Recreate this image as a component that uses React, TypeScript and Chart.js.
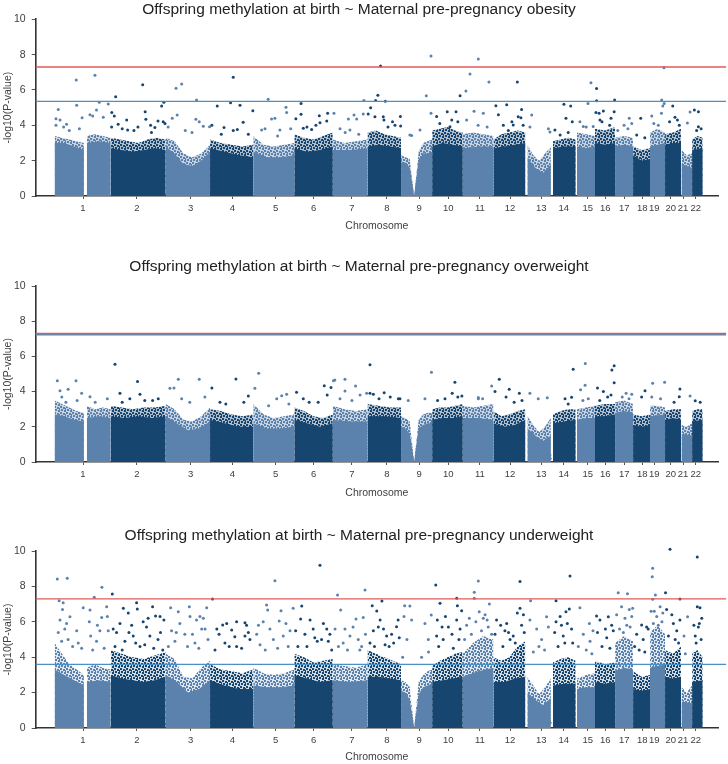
import React, { useEffect, useRef } from 'react';
import { Chart, registerables } from 'chart.js';

Chart.register(...registerables);

// ---------- genome layout (cumulative position, Mb) ----------
const chromosomeLabels = ['1','2','3','4','5','6','7','8','9','10','11','12','13','14','15','16','17','18','19','20','21','22'];
const chromosomeStart = [0, 249, 493, 690, 882, 1064, 1235, 1389, 1538, 1676, 1812, 1948, 2099, 2212, 2319, 2399, 2488, 2568, 2643, 2710, 2783, 2830];
const chromosomeEnd = [249, 493, 690, 882, 1064, 1235, 1389, 1538, 1676, 1812, 1948, 2090, 2203, 2313, 2399, 2488, 2568, 2643, 2710, 2781, 2830, 2877];
const chromosomeTickPos = [126, 365, 604, 789, 981, 1150, 1320, 1475, 1618, 1748, 1888, 2022, 2160, 2260, 2367, 2445, 2529, 2609, 2662, 2735, 2790, 2846];
// centromere gaps: [chromosome index, gap start, gap end]
const centromereGaps: [number, number, number][] = [[0, 130, 143], [8, 1596, 1596]];

const X_MIN = -84;
const X_MAX = 2945;
const LINE_END = 2981;

// ---------- Panel 1: obesity ----------
const obesityTitle = 'Offspring methylation at birth ~ Maternal pre-pregnancy obesity';
const obesityGenomeWide = 7.3;
const obesitySuggestive = 5.35;
const obesityCore: number[][] = [
  [3.0, 3.0, 2.8, 2.6], [3.0, 3.1, 3.0], [2.7, 2.6, 2.5, 2.6, 2.7, 2.6], [2.8, 2.4, 1.8, 1.7, 2.0, 2.5],
  [2.7, 2.5, 2.3, 2.2], [2.5, 2.2, 2.2, 2.3], [2.7, 2.5, 2.6, 2.8], [2.6, 2.6, 2.7],
  [2.8, 2.9, 2.8, 2.7], [1.9, 1.9, 1.6, 0], [0, 2.0, 2.4, 2.4, 2.5], [2.8, 3.0, 2.9, 2.8],
  [2.7, 2.8, 2.8], [2.7, 2.8, 2.9, 3.0], [2.2, 1.6, 1.3, 1.8], [2.7, 2.8, 2.8],
  [2.8, 2.7, 2.8], [3.0, 2.9, 3.0], [2.8, 2.9, 2.8], [2.3, 2.0, 2.1],
  [2.8, 3.0], [2.9, 3.0, 3.0], [1.8, 1.6], [2.6, 2.7],
];
const obesityHalo: number[][] = [
  [3.4, 3.3, 3.2, 3.1, 3.0], [3.4, 3.5, 3.4, 3.3], [3.3, 3.2, 3.1, 3.0, 3.2, 3.3, 3.2], [3.3, 3.1, 2.4, 2.2, 2.4, 2.9],
  [3.2, 3.0, 2.9, 2.8, 2.9], [3.4, 2.9, 2.8, 2.9, 3.0], [3.5, 3.3, 3.2, 3.4, 3.6], [3.2, 3.0, 3.1, 3.2],
  [3.6, 3.7, 3.5, 3.4, 3.3], [2.3, 2.2, 2.1, 0], [0, 2.5, 3.0, 3.1, 3.2], [3.7, 3.8, 3.9, 3.7, 3.6],
  [3.5, 3.6, 3.5, 3.4], [3.2, 3.5, 3.6, 3.7, 3.6], [2.9, 2.3, 2.0, 2.4, 2.8], [3.1, 3.2, 3.3, 3.2],
  [3.6, 3.5, 3.4], [3.8, 3.7, 3.9], [3.3, 3.4, 3.3], [2.8, 2.6, 2.7],
  [3.6, 3.8, 3.6], [3.5, 3.6, 3.8], [2.6, 2.3, 2.4], [3.2, 3.4, 3.3],
];
const obesityPoints: [number, number][] = [
  [96, 6.56], [179, 6.83], [16, 4.9], [98, 5.13], [6, 4.37], [24, 4.3], [6, 4.0], [53, 4.06], [65, 3.7], [122, 4.43],
  [157, 4.6], [169, 4.53], [186, 4.87], [198, 5.3], [216, 4.45], [238, 5.2], [253, 3.9], [40, 3.9], [110, 3.8],
  [271, 5.62], [254, 4.72], [265, 4.53], [282, 4.06], [320, 4.3], [324, 3.73], [352, 3.7], [391, 6.3], [402, 4.77],
  [405, 4.34], [426, 4.0], [445, 3.87], [459, 4.24], [475, 5.09], [485, 5.3], [482, 4.2], [490, 4.1], [300, 3.8], [370, 3.9], [430, 3.6],
  [539, 6.1], [564, 6.34], [544, 4.58], [522, 4.4], [630, 5.43], [627, 4.34], [642, 4.2], [504, 3.9], [660, 3.95], [688, 3.92], [580, 3.7], [610, 3.6],
  [722, 5.09], [793, 6.72], [781, 5.28], [823, 5.13], [837, 4.17], [698, 4.0], [752, 3.88], [793, 3.7], [811, 3.77], [880, 4.83], [740, 3.5], [860, 3.5],
  [948, 5.47], [963, 4.36], [978, 4.4], [1027, 5.02], [1030, 4.72], [1000, 3.73], [934, 3.8], [919, 3.73], [1048, 3.8], [990, 3.4],
  [1094, 5.24], [1094, 4.62], [1071, 4.37], [1175, 4.54], [1212, 4.68], [1104, 3.83], [1178, 4.15], [1208, 4.25], [1141, 3.77], [1120, 3.9], [1160, 4.0],
  [1240, 4.68], [1304, 4.36], [1329, 4.58], [1341, 4.36], [1370, 4.64], [1373, 5.41], [1392, 4.64], [1267, 3.8], [1311, 3.73], [1290, 3.6], [1350, 3.5],
  [1447, 7.36], [1435, 5.7], [1425, 5.41], [1468, 5.36], [1403, 5.0], [1422, 4.49], [1459, 4.49], [1462, 4.3], [1535, 4.5], [1511, 4.0], [1536, 3.96],
  [1480, 3.9], [1500, 4.2],
  [1577, 3.45], [1585, 3.43], [1671, 7.92], [1650, 5.68], [1671, 4.68], [1622, 3.73],
  [1696, 4.5], [1743, 4.77], [1763, 4.3], [1782, 4.77], [1800, 5.68], [1755, 3.92], [1710, 4.1], [1790, 4.2],
  [1826, 5.94], [1844, 6.9], [1881, 7.75], [1928, 6.45], [1862, 4.8], [1829, 4.3], [1903, 4.68], [1880, 4.0], [1920, 3.9],
  [2054, 6.45], [1959, 5.11], [2007, 5.17], [2073, 4.9], [2058, 4.49], [2070, 4.43], [1970, 4.6], [1992, 4.0], [2036, 4.02], [2014, 3.7],
  [2030, 4.2], [2080, 4.0],
  [2118, 4.58], [2110, 3.9], [2192, 3.8], [2199, 3.62],
  [2261, 5.19], [2291, 5.09], [2270, 4.4], [2298, 4.2], [2244, 3.45], [2221, 3.73], [2280, 3.6],
  [2381, 6.41], [2368, 5.24], [2332, 4.2], [2347, 3.93], [2391, 3.93], [2360, 3.9],
  [2406, 6.09], [2406, 5.39], [2403, 4.72], [2417, 4.68], [2436, 4.81], [2421, 4.3], [2486, 5.43], [2484, 4.77], [2464, 4.0], [2430, 4.2], [2470, 4.4],
  [2551, 4.4], [2528, 4.0], [2562, 4.1], [2500, 3.7], [2545, 3.8], [2602, 4.4], [2584, 3.45], [2620, 3.3],
  [2705, 7.26], [2695, 5.43], [2706, 5.24], [2700, 5.1], [2651, 4.53], [2694, 4.68], [2660, 4.1], [2680, 4.0],
  [2744, 5.09], [2754, 4.45], [2773, 4.0], [2730, 4.2], [2765, 4.3], [2821, 4.75], [2809, 4.13], [2821, 0.2],
  [2840, 4.87], [2858, 4.77], [2858, 3.92], [2850, 3.7], [2870, 3.8],
];

// ---------- Panel 2: overweight ----------
const overweightTitle = 'Offspring methylation at birth ~ Maternal pre-pregnancy overweight';
const overweightGenomeWide = 7.3;
const overweightSuggestive = 7.23;
const overweightCore: number[][] = [
  [2.7, 2.6, 2.4, 2.3], [2.5, 2.6, 2.5], [2.6, 2.5, 2.6, 2.5, 2.6], [2.6, 2.2, 1.8, 1.9, 2.3],
  [2.4, 2.2, 2.0, 2.0], [2.2, 1.9, 1.9, 2.0], [2.4, 2.2, 2.0, 2.2], [2.4, 2.3, 2.3],
  [2.6, 2.6, 2.5], [2.0, 1.9, 1.6, 0], [0, 1.9, 2.1, 2.2, 2.2], [2.4, 2.5, 2.5, 2.6],
  [2.5, 2.5, 2.4], [2.2, 2.0, 2.1, 2.4], [1.9, 1.5, 1.2, 1.5], [2.2, 2.3, 2.4],
  [2.4, 2.5, 2.5], [2.6, 2.6, 2.7], [2.8, 2.9, 2.8], [2.1, 2.0, 2.1],
  [2.6, 2.7], [2.4, 2.5, 2.4], [1.6, 1.5], [2.3, 2.4],
];
const overweightHalo: number[][] = [
  [3.5, 3.3, 3.1, 2.9, 2.8], [3.2, 3.0, 3.1, 3.0], [3.2, 3.1, 3.0, 3.1, 3.1, 3.2], [3.3, 3.0, 2.4, 2.3, 2.6, 3.1],
  [3.0, 2.9, 2.7, 2.6, 2.7], [3.3, 2.7, 2.5, 2.6, 2.7], [3.1, 2.9, 2.6, 2.5, 2.7], [3.2, 3.0, 2.9, 3.0],
  [3.3, 3.2, 3.1, 3.1], [2.6, 2.5, 2.3, 0], [0, 2.4, 2.7, 2.8, 2.8], [3.0, 3.1, 3.1, 3.2, 3.3],
  [3.2, 3.1, 3.2, 3.3], [2.9, 2.6, 2.7, 2.9, 3.0], [2.6, 2.1, 1.7, 2.0, 2.5], [2.7, 2.9, 3.0, 3.0],
  [3.0, 3.1, 3.2], [3.2, 3.3, 3.3], [3.4, 3.5, 3.3], [2.7, 2.6, 2.7],
  [3.2, 3.2, 3.1], [2.9, 3.0, 3.0], [2.1, 2.0, 2.2], [2.9, 3.0, 3.0],
];
const overweightPoints: [number, number][] = [
  [12, 4.62], [95, 4.62], [24, 4.05], [60, 4.13], [120, 3.9], [157, 3.71], [234, 3.6], [32, 3.7], [50, 3.4], [100, 3.5], [180, 3.4],
  [268, 5.55], [290, 3.9], [368, 4.58], [379, 3.85], [334, 3.6], [435, 3.5], [300, 3.4], [400, 3.5], [460, 3.6],
  [549, 4.7], [642, 4.7], [512, 4.19], [530, 4.2], [564, 3.6], [667, 3.7], [600, 3.4],
  [805, 4.72], [698, 4.2], [734, 3.4], [860, 3.75], [760, 3.3], [840, 3.4],
  [906, 5.04], [889, 4.19], [1008, 3.77], [1030, 3.85], [986, 3.6], [950, 3.2], [1040, 3.3],
  [1074, 3.96], [1104, 3.6], [1170, 3.4], [1197, 4.33], [1227, 4.24], [1130, 3.4], [1210, 3.8],
  [1238, 4.62], [1244, 4.66], [1289, 4.7], [1289, 4.03], [1336, 4.32], [1267, 3.6], [1356, 3.8], [1385, 3.9], [1320, 3.5],
  [1400, 5.53], [1400, 3.9], [1415, 3.85], [1463, 3.94], [1526, 3.6], [1533, 3.6], [1440, 3.6], [1490, 3.7],
  [1673, 5.1], [1644, 3.6], [1570, 3.5],
  [1777, 4.53], [1765, 3.9], [1733, 3.6], [1808, 3.75], [1700, 3.5], [1790, 3.7],
  [1940, 4.32], [1881, 3.6], [1881, 3.67], [1900, 3.6],
  [1955, 4.0], [1974, 4.7], [2018, 4.13], [2004, 3.7], [2063, 3.9], [2040, 3.4], [2075, 3.5],
  [2110, 3.9], [2147, 3.6], [2187, 3.65], [2199, 0.4], [2200, 0.2],
  [2302, 5.27], [2295, 3.68], [2266, 3.6], [2280, 3.3],
  [2356, 5.59], [2355, 4.36], [2335, 4.1], [2369, 3.6], [2345, 3.5],
  [2474, 5.23], [2484, 5.47], [2484, 4.5], [2436, 4.0], [2410, 4.2], [2470, 3.8], [2420, 3.5], [2455, 3.7],
  [2537, 3.9], [2562, 3.85], [2520, 3.7], [2550, 3.6], [2621, 4.05], [2606, 3.7],
  [2655, 4.47], [2708, 4.53], [2651, 3.7], [2690, 3.6],
  [2776, 4.15], [2773, 3.71], [2750, 3.4], [2821, 3.75], [2825, 0.3], [2844, 3.48], [2866, 3.4],
];

// ---------- Panel 3: underweight ----------
const underweightTitle = 'Offspring methylation at birth ~ Maternal pre-pregnancy underweight';
const underweightGenomeWide = 7.3;
const underweightSuggestive = 3.6;
const underweightCore: number[][] = [
  [3.3, 3.0, 2.7, 2.4], [2.6, 2.7, 2.6], [3.0, 2.8, 2.7, 2.6, 2.7, 2.9], [3.0, 2.6, 2.0, 2.2, 2.7],
  [2.7, 2.4, 2.2, 2.2], [2.4, 2.3, 2.3, 2.4], [3.0, 2.8, 2.6, 2.7], [2.7, 2.6, 2.7],
  [2.9, 2.9, 2.8, 2.7], [2.1, 2.0, 1.6, 0], [0, 1.9, 2.3, 2.4, 2.5], [2.6, 2.7, 2.8, 2.9],
  [2.9, 3.2, 3.4], [2.6, 2.6, 2.8, 2.9], [2.0, 1.6, 1.3, 1.7], [2.4, 2.5, 2.5],
  [2.2, 2.3, 2.3], [2.6, 2.5, 2.6], [3.2, 3.4, 3.3], [2.2, 2.1, 2.2],
  [3.4, 3.6], [2.9, 2.8, 2.9], [1.5, 1.4], [2.6, 2.7],
];
const underweightHalo: number[][] = [
  [4.8, 4.2, 3.6, 3.3, 3.0], [3.4, 3.6, 3.4, 3.3], [4.4, 4.2, 4.0, 3.9, 4.1, 4.3], [4.2, 3.9, 2.9, 2.8, 3.4, 3.8],
  [3.6, 3.3, 3.2, 3.1, 3.3], [3.4, 3.1, 3.0, 3.1, 3.3], [4.2, 4.0, 3.7, 3.8, 3.9], [3.6, 3.5, 3.4, 3.6],
  [4.4, 4.2, 4.0, 3.8, 3.6], [2.7, 2.6, 2.3, 0], [0, 2.6, 3.0, 3.2, 3.3], [3.5, 3.8, 4.0, 4.2, 4.3],
  [4.2, 4.8, 5.2, 5.0], [4.0, 3.8, 4.0, 4.6, 4.9], [2.9, 2.4, 1.9, 2.3, 2.8], [3.7, 3.9, 4.0, 3.8],
  [2.8, 3.0, 3.1], [3.8, 3.6, 3.7], [4.8, 5.2, 4.9], [3.2, 2.9, 3.0],
  [5.4, 5.8, 5.3], [4.4, 4.2, 4.6], [2.3, 2.0, 2.4], [4.2, 4.4, 4.0],
];
const underweightPoints: [number, number][] = [
  [12, 8.42], [56, 8.46], [20, 7.19], [38, 7.08], [35, 6.7], [68, 6.29], [127, 6.8], [24, 6.1], [53, 5.9], [16, 5.4],
  [31, 4.9], [60, 5.0], [98, 5.5], [105, 4.8], [120, 4.5], [157, 6.67], [176, 7.38], [154, 6.0], [201, 5.5], [209, 6.25],
  [231, 6.85], [210, 7.95], [234, 6.3], [238, 5.5], [186, 4.9], [169, 4.4], [45, 5.6], [80, 4.6], [190, 5.8], [220, 4.5], [160, 5.2],
  [256, 7.57], [305, 6.76], [327, 6.5], [364, 7.08], [367, 6.72], [435, 6.85], [448, 6.33], [468, 6.3], [485, 6.1], [290, 5.9],
  [275, 5.4], [342, 5.8], [393, 6.0], [408, 5.7], [312, 4.9], [349, 5.2], [423, 5.2], [379, 4.6], [459, 5.0], [268, 4.6],
  [260, 5.6], [300, 4.4], [330, 5.4], [360, 4.8], [400, 4.7], [415, 6.2], [440, 4.5], [470, 5.4], [480, 4.4],
  [515, 6.8], [549, 6.57], [598, 6.85], [601, 6.3], [630, 6.1], [675, 6.8], [645, 6.3], [660, 6.2], [556, 5.9], [519, 5.5],
  [578, 5.3], [653, 5.6], [534, 4.9], [623, 4.8], [681, 5.0], [505, 4.6], [540, 5.4], [590, 4.6], [612, 5.3], [640, 4.5], [668, 5.6],
  [701, 7.29], [746, 5.82], [764, 5.9], [808, 6.0], [852, 5.8], [786, 5.54], [800, 5.16], [845, 5.95], [845, 5.2], [867, 5.0],
  [808, 4.6], [712, 4.4], [756, 4.8], [730, 5.3], [775, 4.6], [830, 4.5], [860, 5.4], [720, 5.6],
  [978, 8.32], [941, 6.95], [946, 6.67], [1005, 6.63], [926, 6.0], [997, 6.05], [1027, 5.91], [1059, 6.76], [956, 5.6], [971, 5.0],
  [1015, 5.2], [1037, 4.6], [912, 4.7], [897, 5.3], [905, 5.8], [935, 4.4], [990, 4.5], [1045, 5.5],
  [1178, 9.19], [1097, 6.89], [1092, 6.16], [1134, 6.1], [1148, 5.6], [1193, 5.91], [1208, 5.6], [1222, 5.3], [1215, 4.9], [1166, 4.9],
  [1111, 5.3], [1080, 4.6], [1070, 5.5], [1120, 4.6], [1155, 5.1], [1185, 5.0], [1230, 4.4],
  [1256, 7.51], [1270, 6.67], [1338, 6.16], [1370, 6.25], [1378, 7.8], [1289, 5.6], [1311, 5.2], [1348, 5.0], [1245, 5.6], [1281, 4.8], [1363, 4.6],
  [1260, 4.6], [1300, 4.4], [1325, 5.7], [1355, 4.4], [1380, 5.3],
  [1410, 6.91], [1430, 6.61], [1453, 7.18], [1518, 5.72], [1415, 5.5], [1437, 5.7], [1474, 5.2], [1496, 5.3], [1530, 5.1], [1467, 4.7], [1400, 4.8],
  [1420, 4.6], [1445, 6.1], [1460, 5.6], [1485, 4.6], [1505, 4.8], [1525, 6.1],
  [1554, 6.91], [1577, 6.89], [1585, 6.1], [1551, 6.3], [1672, 6.38], [1644, 5.9], [1659, 5.0], [1629, 4.0], [1564, 5.0], [1545, 4.0], [1660, 4.3],
  [1692, 8.08], [1711, 7.05], [1699, 6.1], [1785, 7.33], [1788, 6.9], [1807, 6.63], [1785, 6.1], [1748, 5.7], [1725, 5.0], [1696, 5.2],
  [1764, 5.3], [1800, 5.6], [1705, 4.6], [1735, 6.3], [1770, 4.5], [1795, 5.0], [1720, 5.7],
  [1881, 8.3], [1863, 7.67], [1863, 7.33], [1885, 6.57], [1841, 6.2], [1903, 6.2], [1925, 5.7], [1930, 7.0], [1911, 6.4], [1829, 5.8],
  [1820, 5.0], [1850, 5.3], [1870, 6.0], [1895, 5.5], [1920, 6.1], [1940, 5.3],
  [2066, 8.27], [2066, 6.76], [2081, 6.4], [2054, 6.5], [1962, 6.1], [1980, 5.8], [2007, 5.91], [1999, 5.5], [2036, 5.2], [2073, 5.8], [2022, 5.0],
  [1955, 5.3], [1990, 4.6], [2015, 5.4], [2045, 4.8], [2085, 5.4],
  [2113, 7.19], [2110, 6.1], [2140, 5.6], [2184, 6.29], [2192, 5.7], [2162, 5.0], [2200, 0.3], [2125, 4.3], [2150, 4.6], [2175, 4.4],
  [2288, 8.59], [2226, 7.19], [2270, 6.57], [2285, 6.72], [2244, 6.3], [2226, 6.0], [2276, 5.9], [2295, 5.6], [2258, 5.2],
  [2220, 5.4], [2235, 4.6], [2250, 5.8], [2265, 4.8], [2300, 4.8],
  [2332, 6.8], [2374, 5.9], [2390, 5.5], [2347, 5.3], [2377, 4.9], [2325, 4.6], [2360, 4.4], [2385, 4.2],
  [2406, 6.33], [2458, 6.29], [2421, 6.1], [2473, 5.8], [2451, 5.1], [2480, 5.5], [2410, 5.4], [2430, 4.6], [2445, 5.6], [2465, 4.5],
  [2502, 7.64], [2543, 7.59], [2517, 6.85], [2551, 6.7], [2566, 6.76], [2532, 6.2], [2562, 6.3], [2540, 5.8],
  [2495, 6.4], [2508, 5.6], [2525, 5.4], [2555, 5.7],
  [2606, 5.82], [2628, 5.7], [2613, 5.0], [2584, 5.3], [2575, 4.6], [2595, 4.4], [2620, 4.3], [2635, 5.6],
  [2655, 9.02], [2653, 8.55], [2667, 7.51], [2655, 7.27], [2688, 6.85], [2673, 6.3], [2658, 5.9], [2696, 6.0],
  [2648, 6.6], [2662, 6.6], [2680, 5.8], [2700, 6.5],
  [2732, 10.1], [2712, 7.64], [2776, 7.29], [2717, 6.7], [2747, 5.9], [2762, 5.5], [2776, 6.1],
  [2725, 5.2], [2740, 6.4], [2755, 5.0], [2770, 4.8],
  [2810, 6.29], [2794, 5.2], [2824, 0.4], [2821, 0.8], [2800, 4.2],
  [2853, 9.66], [2853, 6.85], [2865, 6.8], [2873, 6.2], [2858, 5.7], [2844, 5.2], [2838, 5.8], [2848, 4.8], [2862, 5.9], [2870, 5.0],
];

// ---------- styling ----------
const LIGHT = '#5b82ad';
const DARK = '#164570';
const LIGHT_RGB = '91,130,173';
const DARK_RGB = '22,69,112';
const RED = '#e05a5a';
const BLUE = '#4a90c4';
const FONT = "'Liberation Sans', Arial, sans-serif";
const TEXT = '#404040';

type Segment = { chr: number; start: number; end: number };

function buildSegments(): Segment[] {
  const segs: Segment[] = [];
  for (let i = 0; i < chromosomeStart.length; i++) {
    const gap = centromereGaps.find((g) => g[0] === i);
    if (gap) {
      segs.push({ chr: i, start: chromosomeStart[i], end: gap[1] });
      segs.push({ chr: i, start: gap[2], end: chromosomeEnd[i] });
    } else {
      segs.push({ chr: i, start: chromosomeStart[i], end: chromosomeEnd[i] });
    }
  }
  return segs;
}

function polygon(seg: Segment, heights: number[]) {
  const pts: { x: number; y: number }[] = [{ x: seg.start, y: 0 }];
  const n = heights.length;
  heights.forEach((h, i) => {
    const x = n === 1 ? seg.start : seg.start + ((seg.end - seg.start) * i) / (n - 1);
    pts.push({ x, y: h });
  });
  pts.push({ x: seg.end, y: 0 });
  return pts;
}

function chrIndexOf(x: number) {
  let idx = 0;
  for (let i = 0; i < chromosomeStart.length; i++) if (x >= chromosomeStart[i]) idx = i;
  return idx;
}

// stippled fill imitating the dense cloud of dots above the solid body
function stipple(rgb: string, bgAlpha: number): CanvasPattern | string {
  const c = document.createElement('canvas');
  c.width = 6;
  c.height = 6;
  const ctx = c.getContext('2d');
  if (!ctx) return `rgba(${rgb},${bgAlpha})`;
  ctx.fillStyle = `rgba(${rgb},${bgAlpha})`;
  ctx.fillRect(0, 0, 6, 6);
  ctx.fillStyle = `rgb(${rgb})`;
  [[0, 0], [3, 1], [1, 3], [4, 4], [5, 2]].forEach(([x, y]) => ctx.fillRect(x, y, 2, 2));
  return ctx.createPattern(c, 'repeat') || `rgba(${rgb},${bgAlpha})`;
}

type PanelProps = {
  title: string;
  core: number[][];
  halo: number[][];
  points: [number, number][];
  genomeWide: number;
  suggestive: number;
  haloAlpha: number;
  top: number;
  height: number;
  titleY: number;
  chartTop: number;
  chartBottom: number;
  chromY: number;
};

function ManhattanPanel(p: PanelProps) {
  const ref = useRef<HTMLCanvasElement | null>(null);
  useEffect(() => {
    if (!ref.current) return;
    const segs = buildSegments();
    const lightStipple = stipple(LIGHT_RGB, p.haloAlpha);
    const darkStipple = stipple(DARK_RGB, p.haloAlpha);
    const datasets: any[] = [];
    datasets.push({
      type: 'line', data: [{ x: X_MIN, y: p.genomeWide }, { x: LINE_END, y: p.genomeWide }],
      borderColor: RED, borderWidth: 1.3, pointRadius: 0, fill: false, clip: false, order: 0,
    });
    datasets.push({
      type: 'line', data: [{ x: X_MIN, y: p.suggestive }, { x: LINE_END, y: p.suggestive }],
      borderColor: BLUE, borderWidth: 1.3, pointRadius: 0, fill: false, clip: false, order: 0,
    });
    const lightPts = p.points.filter((q) => chrIndexOf(q[0]) % 2 === 0).map((q) => ({ x: q[0], y: q[1] }));
    const darkPts = p.points.filter((q) => chrIndexOf(q[0]) % 2 === 1).map((q) => ({ x: q[0], y: q[1] }));
    datasets.push({ type: 'scatter', data: lightPts, backgroundColor: LIGHT, borderWidth: 0, pointRadius: 1.5, clip: false, order: 1 });
    datasets.push({ type: 'scatter', data: darkPts, backgroundColor: DARK, borderWidth: 0, pointRadius: 1.5, clip: false, order: 1 });
    segs.forEach((seg, si) => {
      const light = seg.chr % 2 === 0;
      datasets.push({
        type: 'line', data: polygon(seg, p.core[si]), fill: 'origin',
        backgroundColor: light ? LIGHT : DARK, borderWidth: 0, borderColor: 'rgba(0,0,0,0)', pointRadius: 0, order: 2,
      });
      datasets.push({
        type: 'line', data: polygon(seg, p.halo[si]), fill: 'origin',
        backgroundColor: light ? lightStipple : darkStipple, borderWidth: 0, borderColor: 'rgba(0,0,0,0)', pointRadius: 0, order: 3,
      });
    });

    const small = { family: FONT, size: 10.5 };
    const tickFont = { family: FONT, size: 9.5 };
    const chart = new Chart(ref.current, {
      type: 'scatter',
      data: { datasets },
      options: {
        responsive: false,
        animation: false,
        events: [],
        layout: { padding: { left: 0, right: 10, top: 0, bottom: 0 } },
        plugins: {
          legend: { display: false },
          tooltip: { enabled: false },
          title: {
            display: true, text: p.title, color: '#222',
            font: { family: FONT, size: 15.5, weight: 'normal', lineHeight: 1.2 },
            padding: { top: p.titleY - 9.3, bottom: p.chartTop - p.titleY - 9.3 },
          },
        },
        scales: {
          x: {
            type: 'linear', min: X_MIN, max: X_MAX,
            afterBuildTicks: (scale: any) => { scale.ticks = chromosomeTickPos.map((v) => ({ value: v })); },
            afterFit: (scale: any) => { scale.height = p.height - p.chartBottom; },
            ticks: {
              autoSkip: false, maxRotation: 0, minRotation: 0, padding: 4, color: TEXT, font: tickFont,
              callback: (_v: any, i: number) => chromosomeLabels[i],
            },
            grid: { drawOnChartArea: false, drawTicks: true, tickLength: 3, color: '#555' },
            border: { display: true, color: '#333', width: 1.6 },
            title: { display: true, text: 'Chromosome', color: TEXT, font: small, padding: { top: 0, bottom: p.height - p.chromY - 6.3 } },
          },
          y: {
            min: 0, max: 10,
            afterFit: (scale: any) => { scale.width = 35.7; },
            ticks: { stepSize: 2, padding: 6, color: TEXT, font: small },
            grid: { drawOnChartArea: false, drawTicks: true, tickLength: 4, color: '#555' },
            border: { display: true, color: '#333', width: 1.6 },
            title: { display: true, text: '-log10(P-value)', color: TEXT, font: small, padding: { top: 2, bottom: 0 } },
          },
        },
      } as any,
    });
    return () => chart.destroy();
  }, []);
  return (
    <canvas
      ref={ref}
      width={728}
      height={p.height}
      style={{ position: 'absolute', left: 0, top: p.top, width: 728, height: p.height, display: 'block' }}
    />
  );
}

export default function App() {
  return (
    <div style={{ position: 'absolute', left: 0, top: 0, width: 728, height: 764, background: '#ffffff', overflow: 'hidden' }}>
      <ManhattanPanel
        title={obesityTitle} core={obesityCore} halo={obesityHalo} points={obesityPoints}
        genomeWide={obesityGenomeWide} suggestive={obesitySuggestive} haloAlpha={0.35}
        top={0} height={240} titleY={10} chartTop={19.3} chartBottom={196} chromY={226}
      />
      <ManhattanPanel
        title={overweightTitle} core={overweightCore} halo={overweightHalo} points={overweightPoints}
        genomeWide={overweightGenomeWide} suggestive={overweightSuggestive} haloAlpha={0.35}
        top={250} height={250} titleY={17} chartTop={36} chartBottom={212} chromY={243}
      />
      <ManhattanPanel
        title={underweightTitle} core={underweightCore} halo={underweightHalo} points={underweightPoints}
        genomeWide={underweightGenomeWide} suggestive={underweightSuggestive} haloAlpha={0.2}
        top={500} height={264} titleY={35.7} chartTop={51} chartBottom={228} chromY={257}
      />
    </div>
  );
}
